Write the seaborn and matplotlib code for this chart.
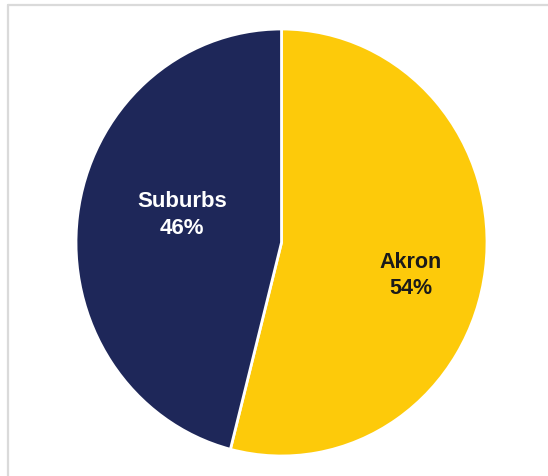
import matplotlib
matplotlib.use("Agg")
import matplotlib.pyplot as plt
from matplotlib.lines import Line2D
import seaborn as sns

# Share of residents by area
categories = ["Akron", "Suburbs"]
shares = [54, 46]
colors = ["#FDCA0A", "#1E2759"]
text_colors = ["#1A1A1A", "#FFFFFF"]

sns.set_theme(style="white")
plt.rcParams["font.family"] = ["Liberation Sans", "DejaVu Sans"]

W, H, DPI = 548, 476, 100
fig = plt.figure(figsize=(W / DPI, H / DPI), dpi=DPI)
fig.patch.set_facecolor("white")
ax = fig.add_axes([0, 0, 1, 1])

wedges, _ = ax.pie(
    shares,
    colors=colors,
    startangle=90,
    counterclock=False,
    wedgeprops=dict(edgecolor="white", linewidth=2),
)

# Pie placement in the frame (slightly taller than wide)
cx, cy, rx, ry = 281.5, 242.5, 205.5, 213.5
ax.set_aspect("auto")
ax.set_xlim(-cx / rx, (W - cx) / rx)
ax.set_ylim(-(H - cy) / ry, cy / ry)
ax.axis("off")

label_pos = {"Akron": (0.630, -0.155), "Suburbs": (-0.483, 0.130)}
sizes = {"Akron": 15.5, "Suburbs": 16}
for cat, val, tc in zip(categories, shares, text_colors):
    x, y = label_pos[cat]
    ax.text(x, y, f"{cat}\n{val}%", ha="center", va="center",
            color=tc, fontsize=sizes[cat], fontweight="bold",
            linespacing=1.35)

# Light frame along the top and left edges
fx0 = 7.5 / W
fy0 = 1 - 4.5 / H
fig.add_artist(Line2D([fx0, 1], [fy0, fy0], transform=fig.transFigure,
                      color="#DADADA", linewidth=1.6))
fig.add_artist(Line2D([fx0, fx0], [0, fy0], transform=fig.transFigure,
                      color="#DADADA", linewidth=1.6))

fig.savefig("out.png", dpi=DPI)
